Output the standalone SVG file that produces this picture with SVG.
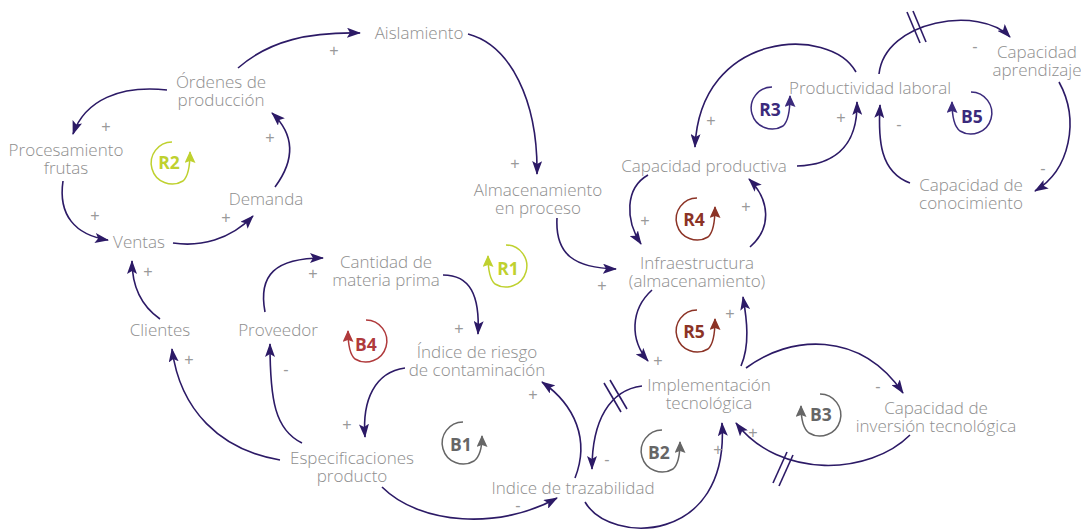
<svg xmlns="http://www.w3.org/2000/svg" width="1081" height="531" viewBox="0 0 1081 531">
<defs>
<style>
.t{font-family:"Open Sans","Liberation Sans",sans-serif;font-weight:300;font-size:17px;fill:#8e8e8e;text-anchor:middle}
.s{font-family:"Liberation Sans",sans-serif;font-weight:400;font-size:16px;fill:#9a9a9a;text-anchor:middle}
.c{fill:none;stroke:#2c1a66;stroke-width:1.6;marker-end:url(#ah)}
.h{stroke:#2c1a66;stroke-width:1.6}
.lt{font-family:"Open Sans","Liberation Sans",sans-serif;font-weight:700;font-size:17.5px;text-anchor:middle}
.lp{fill:none;stroke-width:1.5}
</style>
<marker id="ah" viewBox="0 0 14 10" refX="13" refY="5" markerWidth="14" markerHeight="10" markerUnits="userSpaceOnUse" orient="auto"><path d="M0,0 L14,5 L0,10 L3,5 z" fill="#2c1a66"/></marker>
<marker id="mg" viewBox="0 0 12 11" refX="11" refY="5.5" markerWidth="12" markerHeight="11" markerUnits="userSpaceOnUse" orient="auto"><path d="M0,0 L12,5.5 L0,11 L2,5.5 z" fill="#bfd12f"/></marker>
<marker id="mr" viewBox="0 0 12 11" refX="11" refY="5.5" markerWidth="12" markerHeight="11" markerUnits="userSpaceOnUse" orient="auto"><path d="M0,0 L12,5.5 L0,11 L2,5.5 z" fill="#b03a3c"/></marker>
<marker id="md" viewBox="0 0 12 11" refX="11" refY="5.5" markerWidth="12" markerHeight="11" markerUnits="userSpaceOnUse" orient="auto"><path d="M0,0 L12,5.5 L0,11 L2,5.5 z" fill="#8c3326"/></marker>
<marker id="mi" viewBox="0 0 12 11" refX="11" refY="5.5" markerWidth="12" markerHeight="11" markerUnits="userSpaceOnUse" orient="auto"><path d="M0,0 L12,5.5 L0,11 L2,5.5 z" fill="#3b2a7c"/></marker>
<marker id="mk" viewBox="0 0 12 11" refX="11" refY="5.5" markerWidth="12" markerHeight="11" markerUnits="userSpaceOnUse" orient="auto"><path d="M0,0 L12,5.5 L0,11 L2,5.5 z" fill="#666666"/></marker>
</defs>
<rect width="1081" height="531" fill="#ffffff"/>

<g id="connectors">
<path class="c" d="M238,68 C270,40 310,32 360,33"/>
<path class="c" d="M468,34 C510,45 538,100 537,174"/>
<path class="c" d="M167,90 C120,85 85,100 73,134"/>
<path class="c" d="M63,181 C58,215 75,235 108,240"/>
<path class="c" d="M173,243 C200,247 230,240 253,216"/>
<path class="c" d="M275,187 C295,160 295,135 272,113"/>
<path class="c" d="M160,319 C140,305 132,285 132,261"/>
<path class="c" d="M280,460 C220,450 180,410 172,349"/>
<path class="c" d="M302,443 C275,430 270,400 270,344"/>
<path class="c" d="M265,312 C258,275 275,258 323,258"/>
<path class="c" d="M443,275 C470,275 480,295 478,334"/>
<path class="c" d="M405,368 C375,372 362,400 365,437"/>
<path class="c" d="M382,487 C420,525 500,530 557,498"/>
<path class="c" d="M575,478 C590,440 575,405 542,382"/>
<path class="c" d="M642,386 C610,390 592,420 592,469"/>
<path class="c" d="M585,502 C610,545 730,545 722,423"/>
<path class="c" d="M910,435 C870,475 780,480 736,423"/>
<path class="c" d="M746,368 C790,335 860,330 903,393"/>
<path class="c" d="M741,366 C750,345 747,320 743,297"/>
<path class="c" d="M652,290 C630,310 630,340 648,361"/>
<path class="c" d="M557,218 C555,255 575,268 616,269"/>
<path class="c" d="M648,175 C625,188 625,220 641,244"/>
<path class="c" d="M750,247 C772,228 770,200 749,179"/>
<path class="c" d="M856,72 C830,25 700,30 695,147"/>
<path class="c" d="M797,166 C830,165 858,150 857,102"/>
<path class="c" d="M910,183 C880,172 878,140 880,105"/>
<path class="c" d="M879,74 C885,20 980,5 1010,37"/>
<path class="c" d="M1059,82 C1080,120 1070,170 1035,191"/>
<line class="h" x1="604" y1="383" x2="621" y2="412"/>
<line class="h" x1="610" y1="380" x2="627" y2="409"/>
<line class="h" x1="773" y1="483" x2="787" y2="452"/>
<line class="h" x1="779" y1="486" x2="793" y2="455"/>
<line class="h" x1="907" y1="12" x2="920" y2="43"/>
<line class="h" x1="913" y1="11" x2="926" y2="42"/>
</g>

<g id="signs">
<text class="s" x="334" y="56">+</text>
<text class="s" x="515" y="169">+</text>
<text class="s" x="106" y="132">+</text>
<text class="s" x="95" y="221">+</text>
<text class="s" x="226" y="223">+</text>
<text class="s" x="270" y="143">+</text>
<text class="s" x="148" y="277">+</text>
<text class="s" x="189" y="365">+</text>
<text class="s" x="313" y="279">+</text>
<text class="s" x="459" y="334">+</text>
<text class="s" x="347" y="430">+</text>
<text class="s" x="533" y="400">+</text>
<text class="s" x="718" y="455">+</text>
<text class="s" x="753" y="438">+</text>
<text class="s" x="730" y="319">+</text>
<text class="s" x="658" y="366">+</text>
<text class="s" x="602" y="291">+</text>
<text class="s" x="645" y="226">+</text>
<text class="s" x="746" y="212">+</text>
<text class="s" x="711" y="126">+</text>
<text class="s" x="841" y="123">+</text>
<text class="s" x="286" y="375">-</text>
<text class="s" x="518" y="511">-</text>
<text class="s" x="607" y="465">-</text>
<text class="s" x="878" y="392">-</text>
<text class="s" x="899" y="130">-</text>
<text class="s" x="975" y="52">-</text>
<text class="s" x="1043" y="174">-</text>
</g>

<g id="loops">
<g id="loop-R2"><path class="lp" stroke="#bfd12f" marker-end="url(#mg)" d="M172,142 A21,21 0 1 0 183,181 Q190,175 190,152"/><text class="lt" fill="#bfd12f" x="169" y="169">R2</text></g>
<g id="loop-R1"><path class="lp" stroke="#bfd12f" marker-end="url(#mg)" d="M506,245 A21,21 0 1 1 495,284 Q488,278 488,256"/><text class="lt" fill="#bfd12f" x="508" y="275">R1</text></g>
<g id="loop-B4"><path class="lp" stroke="#b03a3c" marker-end="url(#mr)" d="M366,320 A21,21 0 1 1 355,359 Q348,353 348,331"/><text class="lt" fill="#b03a3c" x="366" y="351">B4</text></g>
<g id="loop-R4"><path class="lp" stroke="#8c3326" marker-end="url(#md)" d="M697,198 A21,21 0 1 0 708,237 Q715,231 715,207"/><text class="lt" fill="#8c3326" x="694" y="226">R4</text></g>
<g id="loop-R5"><path class="lp" stroke="#8c3326" marker-end="url(#md)" d="M697,310 A21,21 0 1 0 708,349 Q715,343 715,319"/><text class="lt" fill="#8c3326" x="694" y="338">R5</text></g>
<g id="loop-R3"><path class="lp" stroke="#3b2a7c" marker-end="url(#mi)" d="M772,87 A21,21 0 1 0 783,126 Q790,120 790,96"/><text class="lt" fill="#3b2a7c" x="770" y="116">R3</text></g>
<g id="loop-B5"><path class="lp" stroke="#3b2a7c" marker-end="url(#mi)" d="M971,92 A21,21 0 1 1 960,131 Q952,125 952,102"/><text class="lt" fill="#3b2a7c" x="972" y="123">B5</text></g>
<g id="loop-B1"><path class="lp" stroke="#666666" marker-end="url(#mk)" d="M463,422 A21,21 0 1 0 474,461 Q482,455 482,436"/><text class="lt" fill="#666666" x="461" y="451">B1</text></g>
<g id="loop-B2"><path class="lp" stroke="#666666" marker-end="url(#mk)" d="M662,430 A21,21 0 1 0 673,469 Q680,463 680,442"/><text class="lt" fill="#666666" x="659" y="459">B2</text></g>
<g id="loop-B3"><path class="lp" stroke="#666666" marker-end="url(#mk)" d="M820,394 A21,21 0 1 1 809,433 Q801,427 801,406"/><text class="lt" fill="#666666" x="821" y="421">B3</text></g>
</g>

<g id="n-aislamiento"><text class="t" x="419" y="39">Aislamiento</text></g>
<g id="n-ordenes"><text class="t" x="221" y="88">Órdenes de</text><text class="t" x="221" y="106">producción</text></g>
<g id="n-procesamiento"><text class="t" x="66" y="156">Procesamiento</text><text class="t" x="66" y="174">frutas</text></g>
<g id="n-demanda"><text class="t" x="266" y="205">Demanda</text></g>
<g id="n-ventas"><text class="t" x="139" y="248">Ventas</text></g>
<g id="n-clientes"><text class="t" x="160" y="336">Clientes</text></g>
<g id="n-proveedor"><text class="t" x="278" y="336">Proveedor</text></g>
<g id="n-cantidad"><text class="t" x="386" y="268">Cantidad de</text><text class="t" x="386" y="286">materia prima</text></g>
<g id="n-riesgo"><text class="t" x="477" y="358">Índice de riesgo</text><text class="t" x="477" y="376">de contaminación</text></g>
<g id="n-especificaciones"><text class="t" x="352" y="464">Especificaciones</text><text class="t" x="352" y="482">producto</text></g>
<g id="n-trazabilidad"><text class="t" x="573" y="494">Indice de trazabilidad</text></g>
<g id="n-implementacion"><text class="t" x="709" y="391">Implementación</text><text class="t" x="709" y="409">tecnológica</text></g>
<g id="n-inversion"><text class="t" x="936" y="414">Capacidad de</text><text class="t" x="936" y="432">inversión tecnológica</text></g>
<g id="n-infraestructura"><text class="t" x="697" y="269">Infraestructura</text><text class="t" x="697" y="287">(almacenamiento)</text></g>
<g id="n-almacenamiento"><text class="t" x="538" y="196">Almacenamiento</text><text class="t" x="538" y="214">en proceso</text></g>
<g id="n-capacidad-productiva"><text class="t" x="704" y="172">Capacidad productiva</text></g>
<g id="n-productividad"><text class="t" x="870" y="94">Productividad laboral</text></g>
<g id="n-aprendizaje"><text class="t" x="1037" y="58">Capacidad</text><text class="t" x="1037" y="76">aprendizaje</text></g>
<g id="n-conocimiento"><text class="t" x="971" y="191">Capacidad de</text><text class="t" x="971" y="209">conocimiento</text></g>
</svg>
